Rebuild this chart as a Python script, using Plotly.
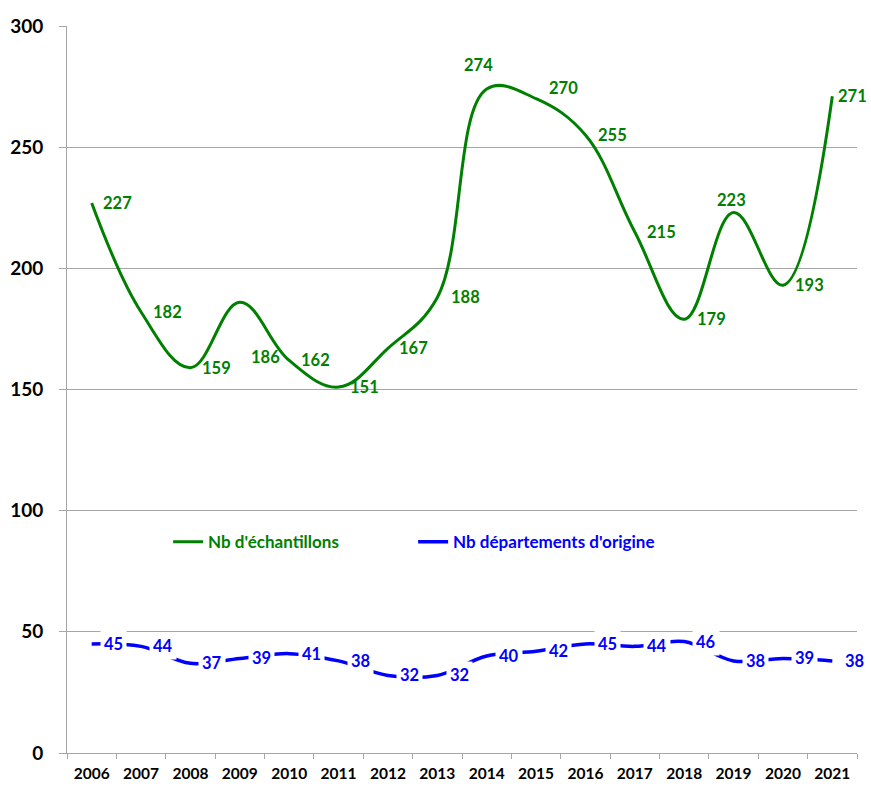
import plotly.graph_objects as go

years = [str(y) for y in range(2006, 2022)]
echantillons = [227, 182, 159, 186, 162, 151, 167, 188, 274, 270, 255, 215, 179, 223, 193, 271]
departements = [45, 44, 37, 39, 41, 38, 32, 32, 40, 42, 45, 44, 46, 38, 39, 38]
name_ech = "Nb d'échantillons"
name_dep = "Nb départements d'origine"

# label offsets (pixels) for the green labels
green_shift = [(26, 0), (26, 0), (26, 0), (26, -55), (26, 0), (26, 0), (26, 0), (28, 0),
               (-8, 24), (27, 11), (27, 0), (27, 0), (27, 0), (-2, 13), (27, 0), (20, 0)]

GREEN = "#008000"
BLUE = "#0000FF"
FONT = "Lato"

fig = go.Figure()
fig.add_trace(go.Scatter(x=years, y=echantillons, mode="lines", line=dict(color=GREEN, width=3, shape="spline", smoothing=1.1),
                         name=f"<span style='color:{GREEN}'>{name_ech}</span>"))
fig.add_trace(go.Scatter(x=years, y=departements, mode="lines", line=dict(color=BLUE, width=3.5, shape="spline", smoothing=1.0),
                         name=f"<span style='color:{BLUE}'>{name_dep}</span>"))

for i, (v, (dx, dy)) in enumerate(zip(echantillons, green_shift)):
    fig.add_annotation(x=i, y=v, xref="x", yref="y", text=str(v), showarrow=False, xshift=dx, yshift=dy,
                       font=dict(color=GREEN, size=16.5, family=FONT, weight="bold"))
for i, v in enumerate(departements):
    fig.add_annotation(x=i, y=v, xref="x", yref="y", text=str(v), showarrow=False, bgcolor="white",
                       xshift=22, font=dict(color=BLUE, size=16.5, family=FONT, weight="bold"), borderpad=3)

fig.update_layout(
    width=871, height=787,
    margin=dict(l=67, r=14, t=26, b=34),
    plot_bgcolor="white", paper_bgcolor="white",
    font=dict(family=FONT, color="black"),
    showlegend=True,
    legend=dict(orientation="h", x=0.128, y=0.29, xanchor="left", yanchor="middle",
                font=dict(size=17, family=FONT, weight="bold"), entrywidth=200, entrywidthmode="pixels",
                bgcolor="rgba(0,0,0,0)", itemwidth=30),
    xaxis=dict(type="category", range=[-0.5, 15.5], showgrid=False, showline=True, linecolor="#A6A6A6",
               linewidth=1, ticks="outside", tickson="boundaries", ticklen=5, tickcolor="#A6A6A6",
               ticklabelstandoff=6, automargin=False,
               tickfont=dict(size=15.5, family=FONT, color="black", weight="bold")),
    yaxis=dict(range=[0, 300], dtick=50, showgrid=True, gridcolor="#A6A6A6", gridwidth=1,
               showline=True, linecolor="#A6A6A6", ticks="outside", ticklen=7, tickcolor="#A6A6A6",
               zeroline=False, automargin=False, ticklabelstandoff=12,
               tickfont=dict(size=19, family=FONT, color="black", weight="bold")),
)
fig.write_html("out.html", config={"displayModeBar": False},
               post_script="document.body.style.margin='0';")
